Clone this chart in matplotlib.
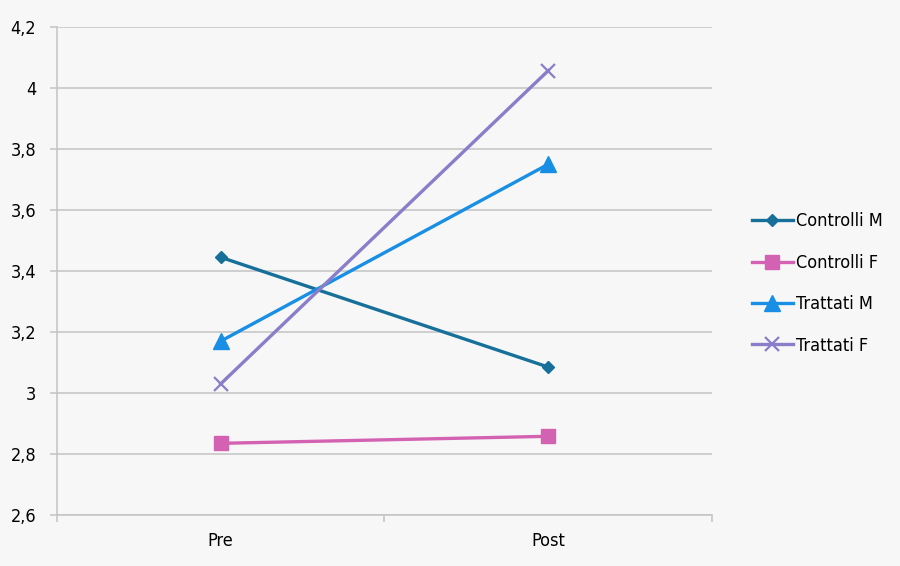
import matplotlib
matplotlib.use('Agg')
import matplotlib.pyplot as plt

categories = ['Pre', 'Post']
controlli_m = [3.445, 3.085]
controlli_f = [2.835, 2.858]
trattati_m = [3.17, 3.75]
trattati_f = [3.03, 4.057]
yticks = [2.6, 2.8, 3.0, 3.2, 3.4, 3.6, 3.8, 4.0, 4.2]
ytick_labels = ['2,6', '2,8', '3', '3,2', '3,4', '3,6', '3,8', '4', '4,2']

plt.rcParams['font.family'] = ['DejaVu Sans']
plt.rcParams['font.stretch'] = 'condensed'

bg = '#f7f7f7'
fig = plt.figure(figsize=(9, 5.66), dpi=100, facecolor=bg)
ax = fig.add_axes([0.0633, 0.0901, 0.7278, 0.8622], facecolor=bg)

x = [0.5, 1.5]
ax.plot(x, controlli_m, color='#17709a', lw=2.4, marker='D', ms=6.5, label='Controlli M')
ax.plot(x, controlli_f, color='#d462b2', lw=2.4, marker='s', ms=10, label='Controlli F')
ax.plot(x, trattati_m, color='#188fe4', lw=2.4, marker='^', ms=11, label='Trattati M')
ax.plot(x, trattati_f, color='#8a7dca', lw=2.4, marker='x', ms=10, mew=1.6, label='Trattati F')

ax.set_xlim(0, 2)
ax.set_ylim(2.6, 4.2)
ax.set_yticks(yticks)
ax.set_yticklabels(ytick_labels, fontsize=13)
ax.set_xticks(x)
ax.set_xticklabels(categories, fontsize=13)
ax.set_xticks([0, 1, 2], minor=True)
ax.tick_params(axis='x', which='major', length=0, pad=12)
ax.tick_params(axis='x', which='minor', length=5, color='#c4c4c4', width=1.1)
ax.tick_params(axis='y', length=5, color='#c4c4c4', width=1.1, pad=10)
ax.grid(axis='y', color='#c4c4c4', lw=1.1)
ax.set_axisbelow(True)
for s in ['top', 'right']:
    ax.spines[s].set_visible(False)
for s in ['left', 'bottom']:
    ax.spines[s].set_color('#c4c4c4')
    ax.spines[s].set_linewidth(1.1)

fig.legend(loc='center left', bbox_to_anchor=(0.817, 0.499), frameon=False,
           fontsize=13, handlelength=2.3, handletextpad=0.15, labelspacing=1.3)

fig.savefig('out.png', dpi=100, facecolor=bg)
